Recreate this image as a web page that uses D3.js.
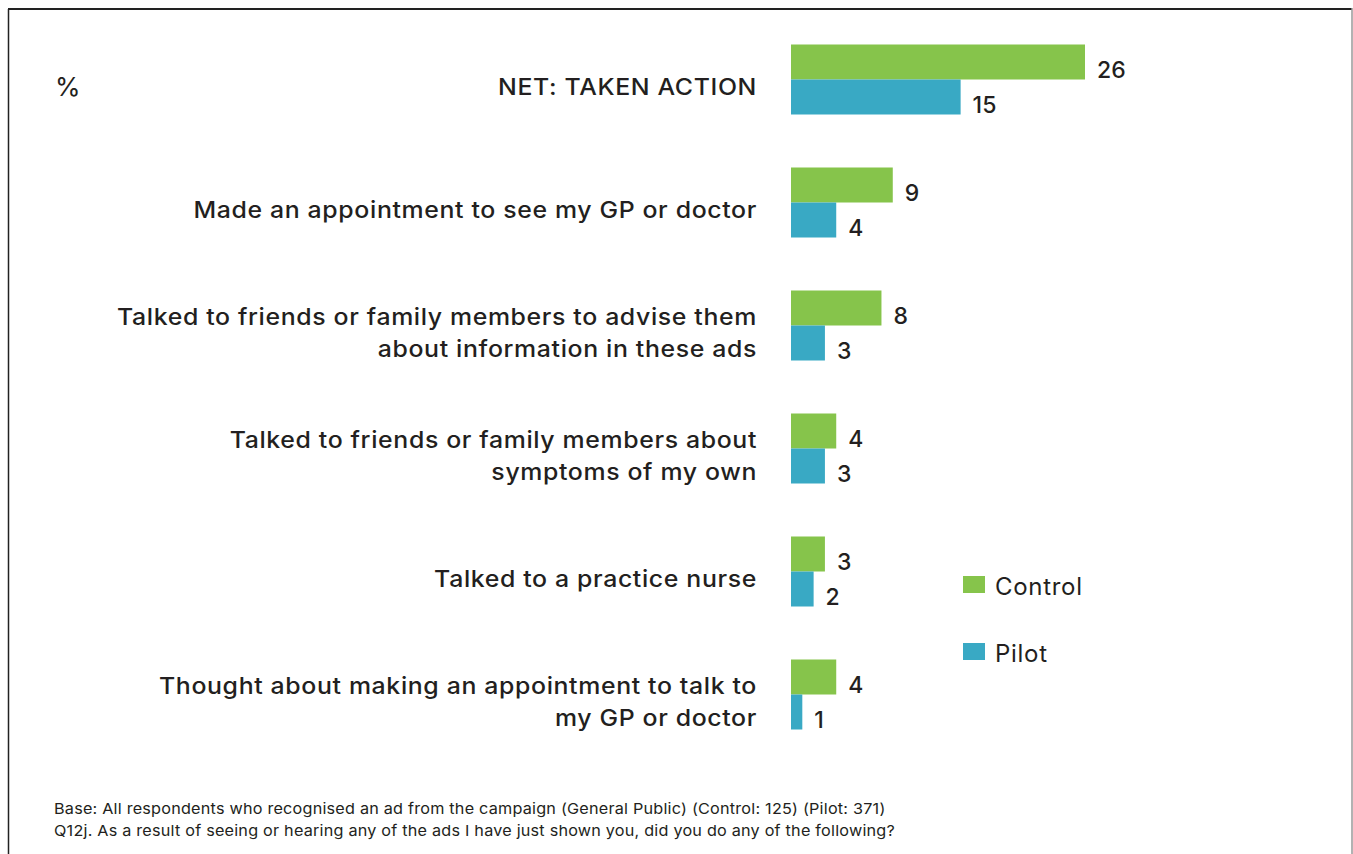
<!DOCTYPE html>
<html>
<head>
<meta charset="utf-8">
<script src="https://cdn.jsdelivr.net/npm/d3@7"></script>
<style>
  html, body { margin: 0; padding: 0; background: #fff; }
  svg { display: block; font-family: Inter, "Liberation Sans", Arial, sans-serif; }
</style>
</head>
<body>
<svg id="chart" width="1353" height="854"></svg>
<script>
// Survey responses: share (%) who took each action, by campaign group
const categories = [
  ["NET: TAKEN ACTION"],
  ["Made an appointment to see my GP or doctor"],
  ["Talked to friends or family members to advise them", "about information in these ads"],
  ["Talked to friends or family members about", "symptoms of my own"],
  ["Talked to a practice nurse"],
  ["Thought about making an appointment to talk to", "my GP or doctor"]
];
const seriesNames = ["Control", "Pilot"];
const controlValues = [26, 9, 8, 4, 3, 4];
const pilotValues = [15, 4, 3, 3, 2, 1];
const colors = ["#86c44b", "#39a9c4"];
const footnotes = [
  "Base: All respondents who recognised an ad from the campaign (General Public) (Control: 125) (Pilot: 371)",
  "Q12j. As a result of seeing or hearing any of the ads I have just shown you, did you do any of the following?"
];

const svg = d3.select("#chart");
const textColor = "#231f20";
const widen = 1.08; // horizontal stretch for the wide sans lettering

// Frame
svg.append("line").attr("x1", 8.5).attr("x2", 8.5).attr("y1", 9).attr("y2", 854)
  .attr("stroke", "#222").attr("stroke-width", 1.5);
svg.append("line").attr("x1", 8).attr("x2", 1352).attr("y1", 9).attr("y2", 9)
  .attr("stroke", "#222").attr("stroke-width", 2);
svg.append("line").attr("x1", 1352).attr("x2", 1352).attr("y1", 8).attr("y2", 854)
  .attr("stroke", "#999").attr("stroke-width", 1.5);

const idx = d3.range(categories.length);
const y = d3.scaleBand().domain(idx).range([18, 756]).paddingInner(0).paddingOuter(0);
const x = d3.scaleLinear().domain([0, 26]).range([791, 1085]);
const barH = 35;

const rows = idx.map(i => ({ i, values: [controlValues[i], pilotValues[i]] }));

const groups = svg.append("g").selectAll("g").data(rows).join("g")
  .attr("transform", d => `translate(0,${y(d.i) + y.bandwidth() / 2 - barH})`);

// Bars
groups.selectAll("rect").data(d => d.values.map((v, s) => ({ v, s }))).join("rect")
  .attr("x", x(0))
  .attr("y", d => d.s * barH)
  .attr("width", d => x(d.v) - x(0))
  .attr("height", barH)
  .attr("fill", d => colors[d.s]);

// Value labels
groups.selectAll("text.val").data(d => d.values.map((v, s) => ({ v, s }))).join("text")
  .attr("class", "val")
  .attr("x", d => x(d.v) + 12)
  .attr("y", d => d.s * barH + barH / 2 + 16)
  .attr("font-size", 23)
  .attr("font-weight", 500)
  .attr("fill", textColor)
  .text(d => d.v);

// Category labels, right-aligned against the bars
const lineH = 32;
groups.append("g")
  .attr("transform", `translate(757,0) scale(${widen},1)`)
  .append("text")
  .attr("text-anchor", "end")
  .attr("font-size", 23)
  .attr("font-weight", 500)
  .attr("letter-spacing", 0.6)
  .attr("fill", textColor)
  .each(function(d) {
    const lines = categories[d.i];
    const t = d3.select(this);
    const first = barH + 16 - (lines.length - 1) * lineH / 2;
    lines.forEach((ln, k) => {
      t.append("tspan").attr("x", 0).attr("y", first + k * lineH).text(ln);
    });
  });

// Unit marker
svg.append("text").attr("x", 55).attr("y", 96).attr("font-size", 26)
  .attr("fill", textColor).text("%");

// Legend
const legend = svg.append("g").selectAll("g").data(seriesNames).join("g")
  .attr("transform", (d, i) => `translate(963,${576 + i * 67})`);
legend.append("rect").attr("width", 22).attr("height", 17).attr("fill", (d, i) => colors[i]);
legend.append("text").attr("x", 32).attr("y", 19).attr("font-size", 24)
  .attr("letter-spacing", 0.7)
  .attr("fill", textColor).text(d => d);

// Footnotes
svg.append("g")
  .attr("transform", `translate(54,0) scale(${widen},1)`)
  .selectAll("text").data(footnotes).join("text")
  .attr("x", 0).attr("y", (d, i) => 814 + i * 22)
  .attr("font-size", 15).attr("letter-spacing", 0.2)
  .attr("fill", textColor).text(d => d);
</script>
</body>
</html>
